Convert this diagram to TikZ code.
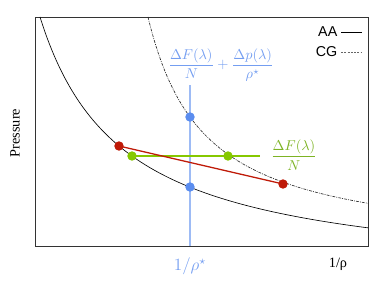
\documentclass[tikz,border=0pt]{standalone}
\usepackage{amsmath}
\usepackage{fontspec}
\usepackage{tikz}
\usetikzlibrary{positioning, calc}
\newfontfamily\legendfont{Liberation Sans}
\newfontfamily\axisfont{Liberation Serif}
\definecolor{ptblue}{HTML}{5B8DEF}
\definecolor{ptred}{HTML}{BF1A08}
\definecolor{ptgreen}{HTML}{86C800}
\definecolor{lblgreen}{HTML}{7DB324}

\begin{document}
\begin{tikzpicture}[
    x=0.7pt, y=0.7pt,
    dot/.style={circle, fill=#1, inner sep=0pt, minimum size=6.6pt},
    curveaa/.style={black, line width=0.45pt},
    curvecg/.style={black!85, line width=0.45pt, dash pattern=on 2pt off 0.8pt on 0.6pt off 0.8pt},
    legend/.style={font=\legendfont, anchor=east, inner sep=1pt},
    axislabel/.style={font=\axisfont\normalsize}
]

\useasboundingbox (-35,-40) rectangle (347,246);

\def\xmax{333}
\def\ymax{229}

% Frame
\draw[black!80, line width=0.55pt] (0,0) rectangle (\xmax,\ymax);

% Curves
\draw[curveaa] plot[domain=5:\xmax, samples=120, smooth] (\x, {218.33/(\x+77.7)*100-35});
\draw[curvecg] plot[domain=113:\xmax, samples=120, smooth] (\x, {131.70/(\x-56.72)*100-5});

% Point positions
\coordinate (bhi) at (155,129);
\coordinate (blo) at (155,59);
\coordinate (gl) at (97,90);
\coordinate (gr) at (193,90);
\coordinate (rl) at (84,100);
\coordinate (rr) at (248,62);
\coordinate (btop) at (155,161);
\coordinate (bbot) at (155,0);
\coordinate (gend) at (225,90);

% Connecting lines
\draw[ptblue!60, line width=1.05pt] (bbot) -- (btop);
\draw[ptgreen, line width=0.9pt] (gl) -- (gend);
\draw[ptred, line width=0.9pt] (rl) -- (rr);

% Points
\node[dot=ptblue] (bhidot) at (bhi) {};
\node[dot=ptblue] (blodot) at (blo) {};
\node[dot=ptgreen] (gldot) at (gl) {};
\node[dot=ptgreen] (grdot) at (gr) {};
\node[dot=ptred] (rldot) at (rl) {};
\node[dot=ptred] (rrdot) at (rr) {};

% Labels
\node[text=ptblue!85] (lblblue) at (186,181) {$\dfrac{\Delta F(\lambda)}{N} + \dfrac{\Delta p(\lambda)}{\rho^{\star}}$};
\node[text=lblgreen] (lblgreen) at (259,91) {$\dfrac{\Delta F(\lambda)}{N}$};
\node[text=ptblue!85, font=\large] (rhostar) at (155,-20) {$1/\rho^{\star}$};
\node[axislabel] (xlabel) at (303,-18) {1/ρ};
\node[axislabel, rotate=90] (ylabel) at (-20,113) {Pressure};

% Legend
\node[legend] (aa) at (304,214) {AA};
\node[legend] (cg) at (304,194) {CG};
\draw[black, line width=0.55pt] ($(aa.east)+(2,0)$) -- ++(21,0);
\draw[black!60, line width=0.4pt, dash pattern=on 1.4pt off 0.9pt] ($(cg.east)+(2,0)$) -- ++(21,0);

\end{tikzpicture}
\end{document}
